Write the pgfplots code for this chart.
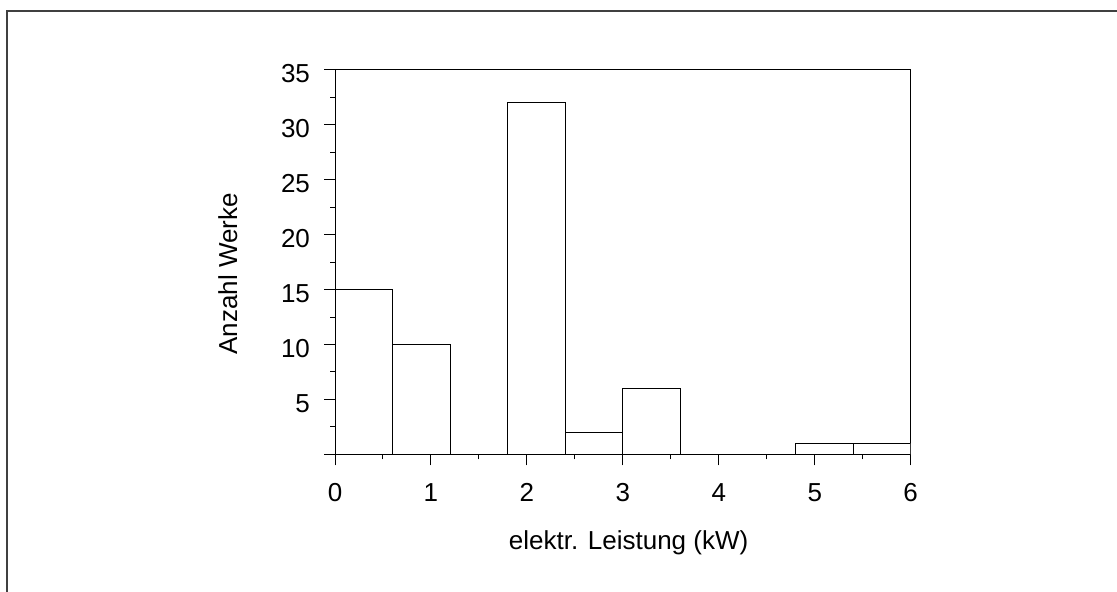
\documentclass[border=0pt]{standalone}
\usepackage{fontspec}
\setmainfont{Liberation Sans}
\usepackage{pgfplots}
\pgfplotsset{compat=1.18}
\begin{document}
\begin{tikzpicture}
% page = 1117 x 592 px at 0.5pt per px
\useasboundingbox (0,0) rectangle (558.5pt,296pt);
\draw[line width=1pt, black!75] (3.25pt,-5pt) -- (3.25pt,290.25pt) -- (565pt,290.25pt);
\begin{axis}[
  at={(167.5pt,68.85pt)}, anchor=south west,
  scale only axis,
  width=287.85pt, height=192.15pt,
  xmin=0, xmax=6, ymin=0, ymax=35,
  xtick={0,1,...,6},
  ytick={0,5,...,35},
  yticklabels={{},5,10,15,20,25,30,35},
  minor tick num=1,
  xtick pos=left, ytick pos=left,
  tick align=outside,
  major tick length=5.5pt, minor tick length=2.5pt,
  every tick/.style={black, line width=0.5pt},
  axis line style={black, line width=0.5pt},
  tick label style={font=\fontsize{13}{15}\selectfont},
  xticklabel style={yshift=-5.5pt},
  yticklabel style={xshift=-3.5pt, yshift=-2pt},
  label style={font=\fontsize{13}{15}\selectfont},
  /pgf/number format/assume math mode=true,
  xlabel={elektr. Leistung (kW)},
  ylabel={Anzahl Werke},
  xlabel style={at={(axis description cs:0.510,-0.2472)}, anchor=base},
  ylabel style={at={(axis description cs:-0.1702,0.4697)}, anchor=base},
]
\addplot[ybar interval, fill=white, draw=black, line width=0.5pt] coordinates {
  (0,15) (0.6,10) (1.2,0) (1.8,32) (2.4,2) (3.0,6) (3.6,0) (4.2,0) (4.8,1) (5.4,1) (6.0,0)
};
\end{axis}
\end{tikzpicture}
\end{document}
